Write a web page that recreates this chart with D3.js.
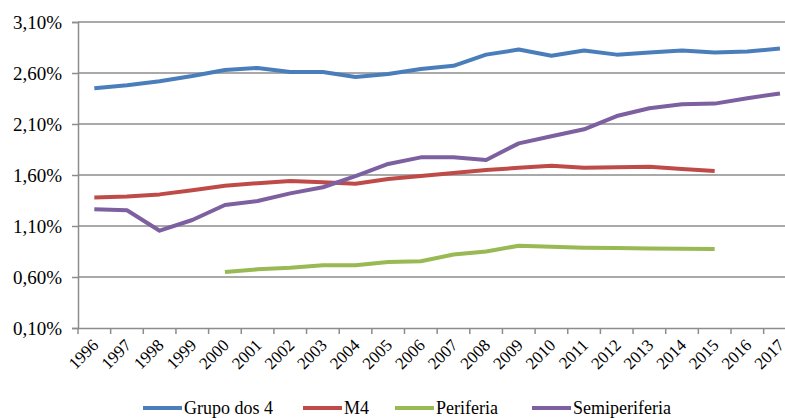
<!DOCTYPE html>
<html>
<head>
<meta charset="utf-8">
<script src="https://cdn.jsdelivr.net/npm/d3@7"></script>
<style>
  body { margin: 0; background: #fff; }
</style>
</head>
<body>
<svg width="785" height="418"></svg>
<script>
var years = ["1996","1997","1998","1999","2000","2001","2002","2003","2004","2005","2006",
             "2007","2008","2009","2010","2011","2012","2013","2014","2015","2016","2017"];
var yTicks = [0.10, 0.60, 1.10, 1.60, 2.10, 2.60, 3.10];

// valores em %, null = sem dado
var grupo4 = [2.45, 2.48, 2.52, 2.57, 2.63, 2.65, 2.61, 2.61, 2.56, 2.59, 2.64,
              2.67, 2.78, 2.83, 2.77, 2.82, 2.78, 2.80, 2.82, 2.80, 2.81, 2.84];
var m4 = [1.38, 1.39, 1.41, 1.45, 1.495, 1.52, 1.54, 1.53, 1.515, 1.56, 1.59,
          1.62, 1.65, 1.67, 1.69, 1.67, 1.675, 1.68, 1.66, 1.64, null, null];
var periferia = [null, null, null, null, 0.65, 0.675, 0.69, 0.715, 0.715, 0.747, 0.754,
                 0.82, 0.85, 0.907, 0.897, 0.887, 0.884, 0.88, 0.877, 0.875, null, null];
var semiperiferia = [1.264, 1.254, 1.054, 1.159, 1.306, 1.345, 1.42, 1.48, 1.59, 1.708, 1.773,
                     1.773, 1.747, 1.91, 1.98, 2.048, 2.178, 2.254, 2.293, 2.30, 2.352, 2.40];

var seriesNames = ["Grupo dos 4", "M4", "Periferia", "Semiperiferia"];
var seriesColors = ["#4a7ebb", "#be4b48", "#98b954", "#7d60a0"];
var seriesData = [grupo4, m4, periferia, semiperiferia];

var serif = "'Liberation Serif', 'DejaVu Serif', serif";

var svg = d3.select("svg");
var mLeft = 78, mTop = 22, mBottom = 328;
var band = 32.65;

var x = d3.scaleBand().domain(years).range([mLeft, mLeft + band * years.length]);
var y = d3.scaleLinear().domain([0.10, 3.10]).range([mBottom, mTop]);

// grade
svg.append("g").selectAll("line")
  .data(yTicks.slice(1))
  .enter().append("line")
    .attr("x1", mLeft).attr("x2", 800)
    .attr("y1", d => y(d)).attr("y2", d => y(d))
    .attr("stroke", "#8c8c8c").attr("stroke-width", 1.5);

// eixo y
var yAxis = svg.append("g")
  .attr("transform", "translate(" + mLeft + ",0)")
  .call(d3.axisLeft(y).tickValues(yTicks).tickSize(6).tickPadding(10)
    .tickFormat(d => d3.format(".2f")(d).replace(".", ",") + "%"));
yAxis.select(".domain").attr("stroke", "#8c8c8c").attr("stroke-width", 1.5);
yAxis.selectAll(".tick line").attr("stroke", "#8c8c8c").attr("stroke-width", 1.5);
yAxis.selectAll("text")
  .style("font-family", serif).style("font-size", "19px")
  .attr("fill", "#000").attr("dy", "0.35em");

// eixo x
var xAxis = svg.append("g")
  .attr("transform", "translate(0," + mBottom + ")")
  .call(d3.axisBottom(x).tickSize(0).tickPadding(0));
xAxis.select(".domain").attr("stroke", "#8c8c8c").attr("stroke-width", 1.5);
xAxis.selectAll(".tick text")
  .style("font-family", serif).style("font-size", "17px")
  .attr("fill", "#000")
  .attr("text-anchor", "end")
  .attr("transform", "translate(1,14) rotate(-45)")
  .attr("dy", "0.35em").attr("y", 0).attr("x", 0);
svg.append("g").selectAll("line")
  .data(years)
  .enter().append("line")
    .attr("x1", d => x(d)).attr("x2", d => x(d))
    .attr("y1", mBottom).attr("y2", mBottom + 6)
    .attr("stroke", "#8c8c8c").attr("stroke-width", 1.5);

// linhas
var line = d3.line()
  .defined(d => d != null)
  .x((d, i) => x(years[i]) + x.bandwidth() / 2)
  .y(d => y(d));

svg.append("g").selectAll("path")
  .data(seriesData)
  .enter().append("path")
    .attr("d", line)
    .attr("fill", "none")
    .attr("stroke", (d, i) => seriesColors[i])
    .attr("stroke-width", 4)
    .attr("stroke-linejoin", "round");

// legenda
var legendX = [143, 303, 395, 532];
var legend = svg.append("g").selectAll("g")
  .data(seriesNames)
  .enter().append("g")
    .attr("transform", (d, i) => "translate(" + legendX[i] + ",408)");
legend.append("line")
  .attr("x1", 0).attr("x2", 39).attr("y1", 0).attr("y2", 0)
  .attr("stroke", (d, i) => seriesColors[i]).attr("stroke-width", 4);
legend.append("text")
  .attr("x", 41).attr("y", 0).attr("dy", "0.35em")
  .style("font-family", serif).style("font-size", "18px")
  .text(d => d);
</script>
</body>
</html>
